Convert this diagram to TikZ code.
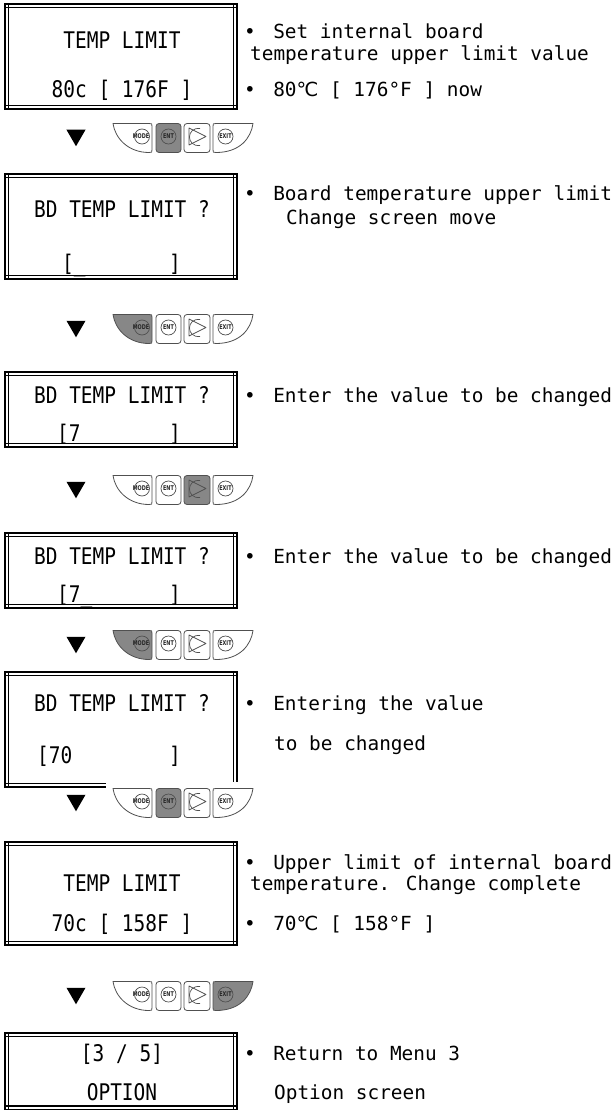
\documentclass[tikz,border=0pt]{standalone}
\usepackage{fontspec}
\usetikzlibrary{shapes.geometric}
\newfontfamily\rtfont{DejaVu Sans Mono}
\newfontfamily\bxfont[FakeStretch=0.85]{DejaVu Sans Mono}
\newfontfamily\symfont{DejaVu Sans}
\newfontfamily\keyfont[FakeStretch=0.75]{DejaVu Sans}
\definecolor{keygray}{RGB}{135,135,135}
\definecolor{keyline}{RGB}{80,80,80}
\newcommand\lcdbullet{\makebox[23.4pt][c]{•}}
\newcommand\degc{{\symfont ℃}}
\newcommand\lcdframe[3]{%
  \node[lcdbox, minimum height={#3-#2}] (#1) at (121,{(#2+#3)/2}) {};
  \draw[frame] ([yshift=-3.5pt]#1.north west) -- ([yshift=-3.5pt]#1.north east);
  \draw[frame] ([yshift=3.5pt]#1.south west) -- ([yshift=3.5pt]#1.south east);
  \draw[frame] ([xshift=3.5pt]#1.north west) -- ([xshift=3.5pt]#1.south west);
  \draw[frame] ([xshift=-3.5pt]#1.north east) -- ([xshift=-3.5pt]#1.south east);
}
\tikzset{
  frame/.style={draw=black, line width=1.1pt},
  lcdbox/.style={frame, minimum width=232pt, inner sep=0pt, outer sep=0pt},
  bt/.style={font=\bxfont\fontsize{22.9}{24}\selectfont, inner sep=0pt, text height=16.7pt, text depth=0pt},
  rt/.style={font=\rtfont\fontsize{19.4}{21}\selectfont, inner sep=0pt, text height=14.2pt, text depth=0pt, anchor=west},
  tri/.style={regular polygon, regular polygon sides=3, shape border rotate=180, fill=black, minimum size=22pt, inner sep=0pt},
  keybody/.style={draw=keyline, line width=0.8pt, fill=white, line join=round},
  keyline/.style={draw=keyline, line width=0.7pt},
  keytxt/.style={font=\keyfont\bfseries\fontsize{6.5}{6.5}\selectfont, inner sep=0pt, text=black!85},
  modeK/.style={}, entK/.style={}, arrK/.style={}, exitK/.style={},
  keys/.pic={
    % MODE key
    \path[keybody, modeK] (113,-14.5) -- (149,-14.5) .. controls (152,-14.5) .. (152,-11.5)
      -- (152,11.5) .. controls (152,14.5) .. (149,14.5)
      .. controls (128,14.5) and (115,0) .. (113,-14.5) -- cycle;
    \draw[keyline] (142,-1.5) circle[radius=7.5];
    \node[keytxt] (-mode) at (141,-1.5) {MODE};
    % ENT key
    \path[keybody, entK, rounded corners=3pt] (156,-14.5) rectangle (181,14.5);
    \draw[keyline] (168.5,-1.5) circle[radius=7.5];
    \node[keytxt] (-ent) at (168.5,-1.5) {ENT};
    % arrow key
    \path[keybody, arrK, rounded corners=3pt] (184,-14.5) rectangle (210,14.5);
    \draw[keyline, line join=round] (189,-10) -- (206,-1.5) -- (189,7) -- cycle;
    \draw[keyline] (200,-9.5) .. controls (186,-11) and (186,9) .. (200,7.5);
    % EXIT key
    \path[keybody, exitK] (216,-14.5) -- (253,-14.5)
      .. controls (251,0) and (240,14.5) .. (216,14.5)
      .. controls (213,14.5) .. (213,11.5) -- (213,-11.5)
      .. controls (213,-14.5) .. (216,-14.5) -- cycle;
    \draw[keyline] (225.5,-1.5) circle[radius=7.5];
    \node[keytxt] (-exit) at (225.5,-1.5) {EXIT};
  }
}
\begin{document}
\begin{tikzpicture}[x=1pt, y=-1pt]
\useasboundingbox (0,0) rectangle (613,1110);

% ---- screen 1
\lcdframe{s1}{4}{109}
\node[bt] (s1a) at (122,40) {TEMP LIMIT};
\node[bt] (s1b) at (122,89) {80c [ 176F ]};
\node[rt] (d1a) at (238,31) {\lcdbullet{} Set internal board};
\node[rt] (d1b) at (250,53) {temperature upper limit value};
\node[rt] (d1c) at (238,89) {\lcdbullet{} 80\degc{} [ 176°F ] now};
\node[tri] (a1) at (76,{138-2.75}) {};
\pic[entK/.style={fill=keygray}] (k1) at (0,138) {keys};

% ---- screen 2
\lcdframe{s2}{174}{279}
\node[bt] (s2a) at (122,209) {BD TEMP LIMIT ?};
\node[bt, anchor=west] (s2b) at (62,263) {[\_};
\node[bt, anchor=east] (s2c) at (181,263) {]};
\node[rt] (d2a) at (238,193) {\lcdbullet{} Board temperature upper limit};
\node[rt] (d2b) at (286,217) {Change screen move};
\node[tri] (a2) at (76,{329-2.75}) {};
\pic[modeK/.style={fill=keygray}] (k2) at (0,329) {keys};

% ---- screen 3
\lcdframe{s3}{372}{447}
\node[bt] (s3a) at (122,395) {BD TEMP LIMIT ?};
\node[bt, anchor=west] (s3b) at (57,433) {[7};
\node[bt, anchor=east] (s3c) at (181,433) {]};
\node[rt] (d3a) at (238,395) {\lcdbullet{} Enter the value to be changed};
\node[tri] (a3) at (76,{490-2.75}) {};
\pic[arrK/.style={fill=keygray}] (k3) at (0,490) {keys};

% ---- screen 4
\lcdframe{s4}{533}{608}
\node[bt] (s4a) at (122,556) {BD TEMP LIMIT ?};
\node[bt, anchor=west] (s4b) at (57,594) {[7\_};
\node[bt, anchor=east] (s4c) at (181,594) {]};
\node[rt] (d4a) at (238,556) {\lcdbullet{} Enter the value to be changed};
\node[tri] (a4) at (76,{645-2.75}) {};
\pic[modeK/.style={fill=keygray}] (k4) at (0,645) {keys};

% ---- screen 5
\lcdframe{s5}{672}{787}
\node[bt] (s5a) at (122,703) {BD TEMP LIMIT ?};
\node[bt, anchor=west] (s5b) at (37,755) {[70};
\node[bt, anchor=east] (s5c) at (181,755) {]};
\node[rt] (d5a) at (238,703) {\lcdbullet{} Entering the value};
\node[rt] (d5b) at (274,743) {to be changed};
\fill[white] (106,781.5) rectangle (245,792);
\node[tri] (a5) at (76,{803-2.75}) {};
\pic[entK/.style={fill=keygray}] (k5) at (0,803) {keys};

% ---- screen 6
\lcdframe{s6}{842}{945}
\node[bt] (s6a) at (122,883) {TEMP LIMIT};
\node[bt] (s6b) at (122,923) {70c [ 158F ]};
\node[rt] (d6a) at (238,862) {\lcdbullet{} Upper limit of internal board};
\node[rt] (d6b) at (250,883) {temperature. Change complete};
\node[rt] (d6c) at (238,923) {\lcdbullet{} 70\degc{} [ 158°F ]};
\node[tri] (a6) at (76,{996-2.75}) {};
\pic[exitK/.style={fill=keygray}] (k6) at (0,996) {keys};

% ---- screen 7
\lcdframe{s7}{1033}{1109.5}
\node[bt] (s7a) at (122,1053) {[3 / 5]};
\node[bt] (s7b) at (122,1092) {OPTION};
\node[rt] (d7a) at (238,1053) {\lcdbullet{} Return to Menu 3};
\node[rt] (d7b) at (274,1092) {Option screen};
\end{tikzpicture}
\end{document}
